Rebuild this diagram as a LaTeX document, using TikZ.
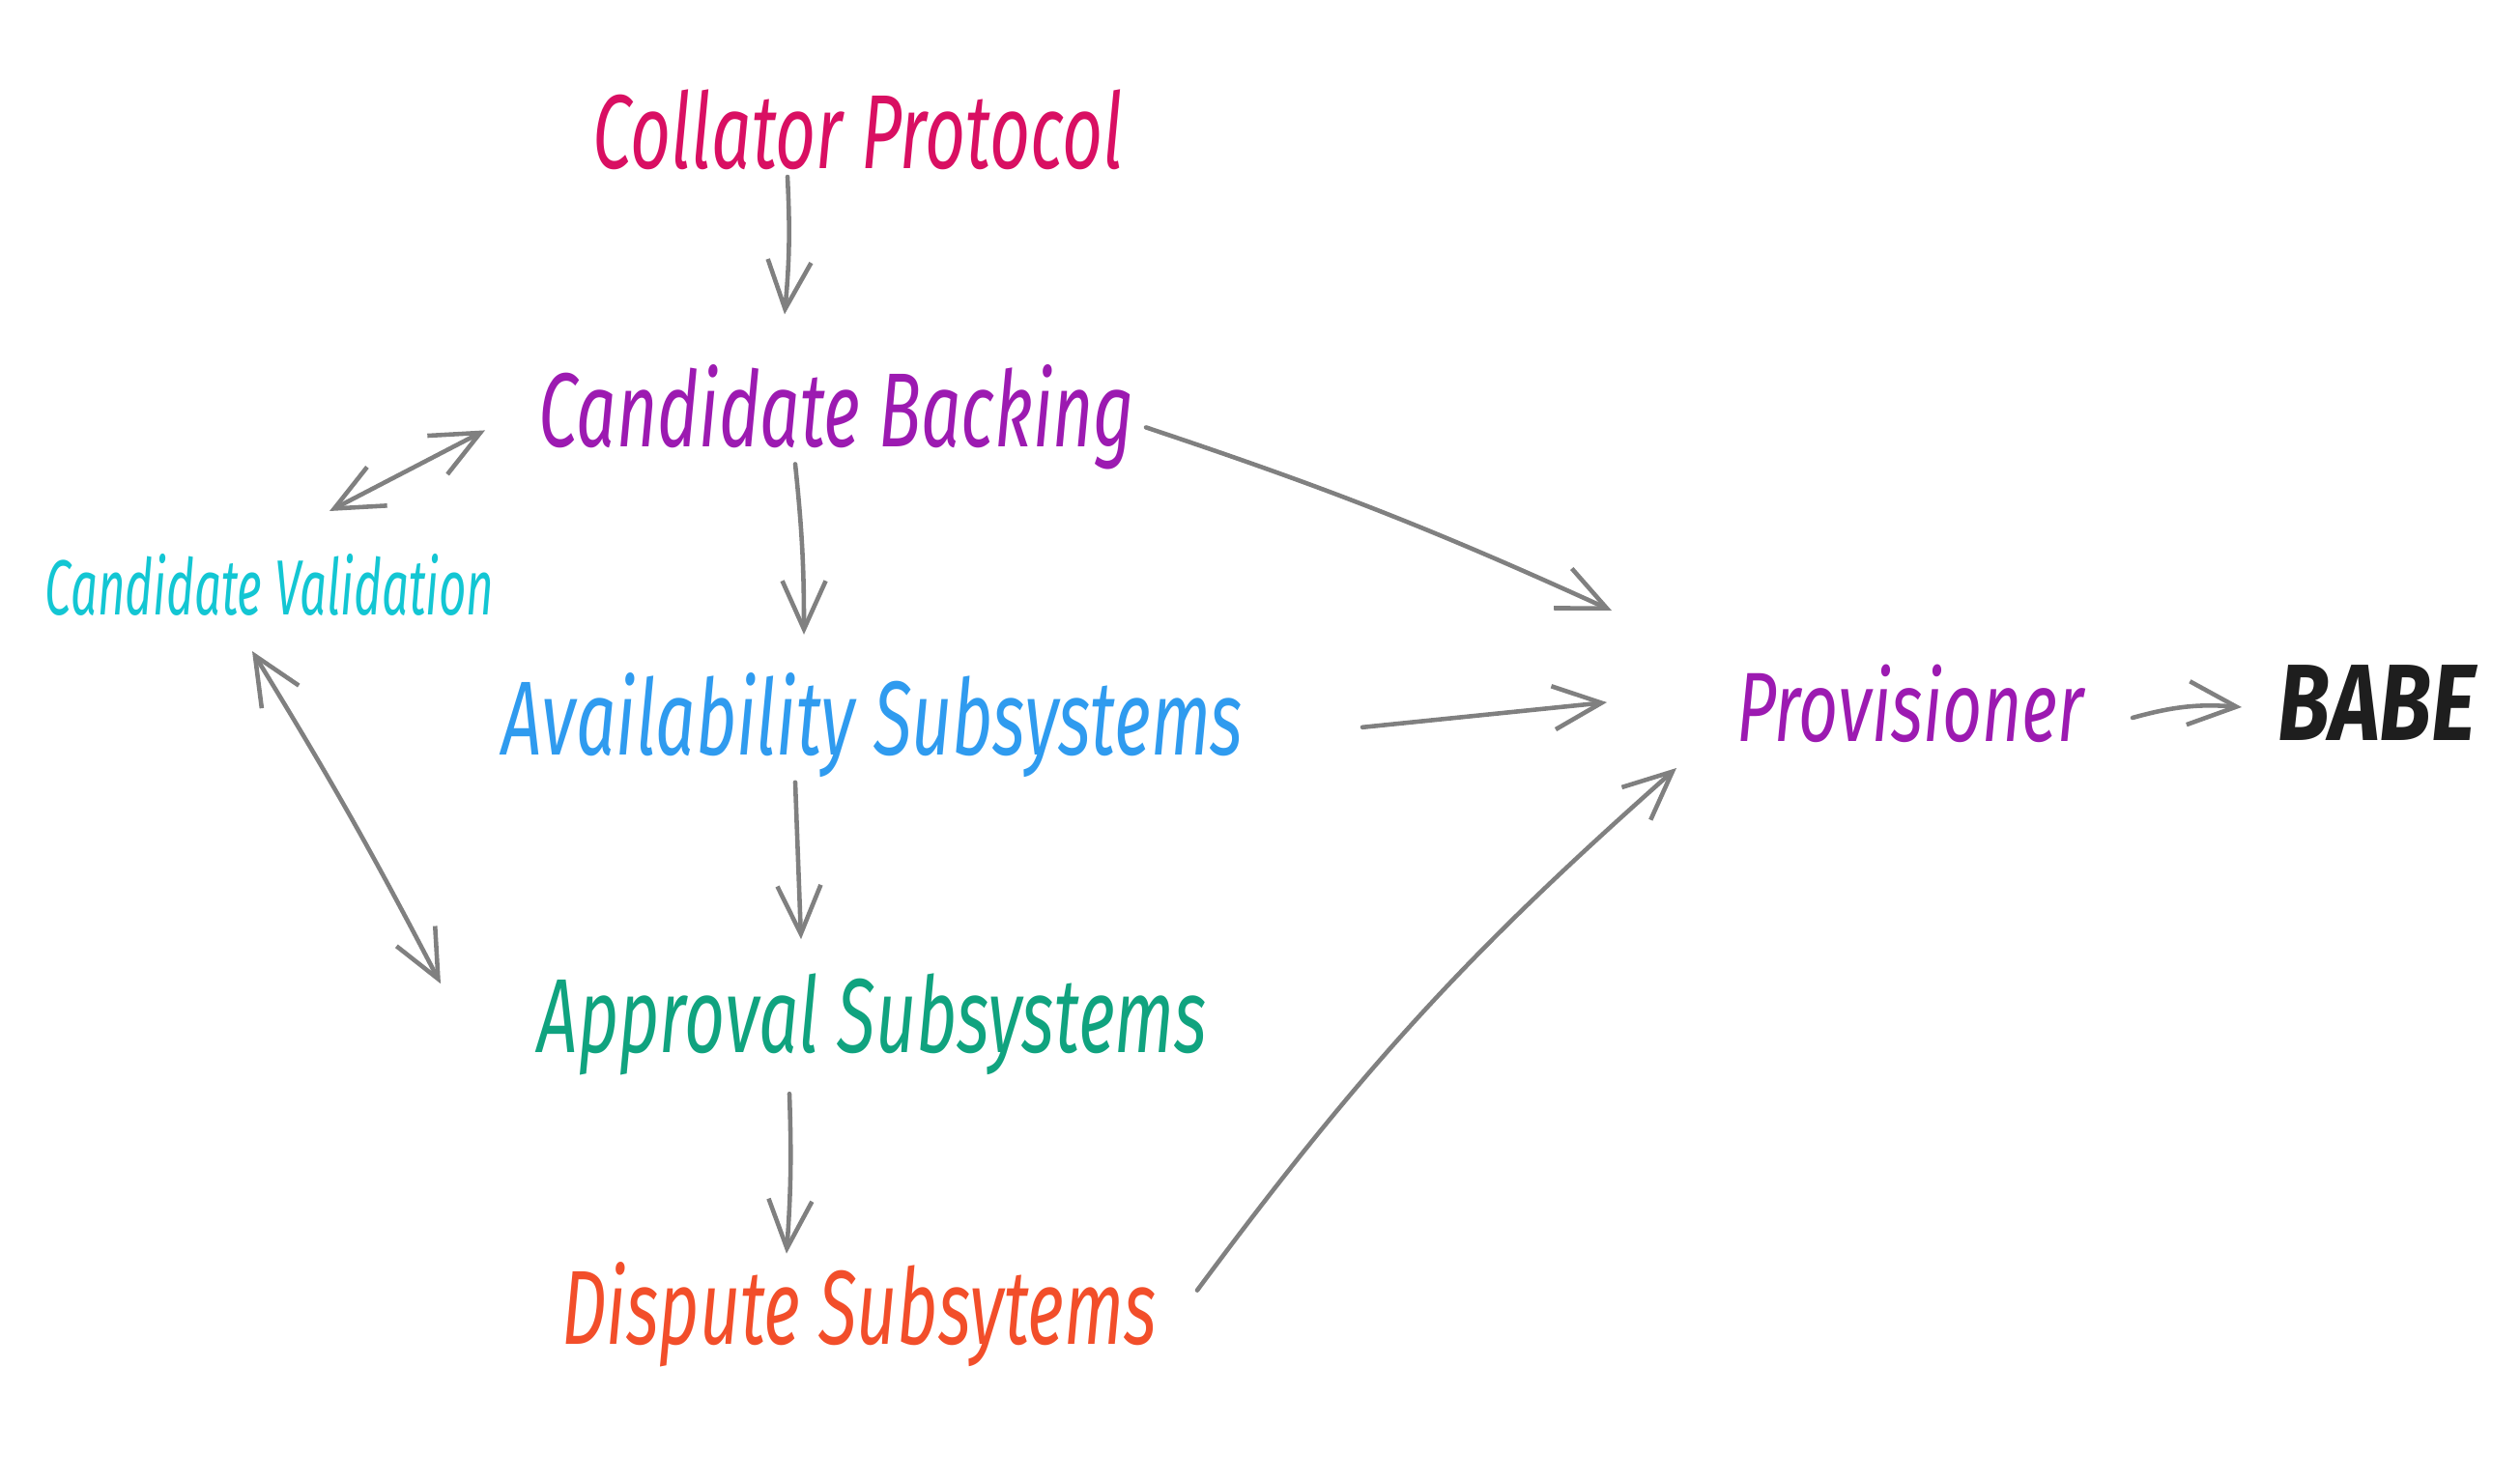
\documentclass[tikz,border=0pt]{standalone}
\usepackage{fontspec}
\usepackage{graphicx}
\usetikzlibrary{positioning}
\usetikzlibrary{arrows.meta}
\newfontfamily\handfont{Fira Sans}
\definecolor{collator}{HTML}{D90F62}
\definecolor{backing}{HTML}{9C1AB1}
\definecolor{validation}{HTML}{13C6D3}
\definecolor{avail}{HTML}{2F9BEF}
\definecolor{approval}{HTML}{10A37F}
\definecolor{dispute}{HTML}{F24E2A}
\definecolor{babeblack}{HTML}{1E1E1E}
\definecolor{linkgray}{HTML}{808080}
\newcommand{\narrow}[2][0.67]{\scalebox{#1}[1]{#2}}

\begin{document}
\begin{tikzpicture}[
		hand/.style={inner sep=0pt, text height=0.8cm, text depth=0.05cm, font=\handfont\itshape\fontsize{31}{36}\selectfont},
		small/.style={hand, text height=0.6cm, font=\handfont\itshape\fontsize{23}{27}\selectfont},
		link/.style={draw=linkgray, line width=1.3pt, line cap=round, line join=round},
		>={Straight Barb[length=5mm,width=4.5mm]}]
		\useasboundingbox (0,0) rectangle (26.08,-15.33);
		\node[hand, text=collator] (cp) at (8.88,-1.37) {\narrow{Collator Protocol}};
		\node[hand, text=backing, below=2.02cm of cp, xshift=-0.22cm] (cb) {\narrow{Candidate Backing}};
		\node[hand, text=avail, below=2.32cm of cb, xshift=0.37cm] (av) {\narrow{Availability Subsystems}};
		\node[hand, text=approval, below=2.22cm of av] (ap) {\narrow{Approval Subsystems}};
		\node[hand, text=dispute, below=2.15cm of ap, xshift=-0.14cm] (ds) {\narrow{Dispute Subsytems}};
		\node[small, text=validation] (cv) at (2.79,-6.09) {\narrow[0.61]{Candidate Validation}};
		\node[hand, text=backing, font=\handfont\itshape\fontsize{29}{34}\selectfont] (pv) at (19.77,-7.30) {\narrow[0.7]{Provisioner}};
		\node[hand, text=babeblack, font=\handfont\bfseries\itshape\fontsize{32}{38}\selectfont] (babe) at (24.60,-7.29) {\narrow[0.79]{BABE}};
		\draw[link, ->] ([shift={(-0.73,-0.46)}]cp.center) to[bend left=4] ([shift={(-0.54,1.00)}]cb.center);
		\draw[link, ->] ([shift={(-0.43,-0.55)}]cb.center) to[bend left=3] ([shift={(-0.71,0.87)}]av.center);
		\draw[link, ->] ([shift={(-0.80,-0.66)}]av.center) -- ([shift={(-0.74,0.80)}]ap.center);
		\draw[link, ->] ([shift={(-0.86,-0.80)}]ap.center) to[bend left=3] ([shift={(-0.75,0.56)}]ds.center);
		\draw[link, <->] ([shift={(0.62,0.80)}]cv.center) -- ([shift={(-3.64,-0.20)}]cb.center);
		\draw[link, <->] ([shift={(-0.18,-0.65)}]cv.center) to[bend left=2] ([shift={(-4.47,0.34)}]ap.center);
		\draw[link, ->] ([shift={(3.20,-0.17)}]cb.center) to[bend left=3] ([shift={(-3.09,0.98)}]pv.center);
		\draw[link, ->] ([shift={(5.07,-0.09)}]av.center) -- ([shift={(-3.14,0.03)}]pv.center);
		\draw[link, ->] ([shift={(3.50,0.18)}]ds.center) to[bend left=6] ([shift={(-2.42,-0.65)}]pv.center);
		\draw[link, ->] ([shift={(2.30,-0.13)}]pv.center) to[bend left=10] ([shift={(-1.40,-0.03)}]babe.center);
		\end{tikzpicture}
\end{document}
